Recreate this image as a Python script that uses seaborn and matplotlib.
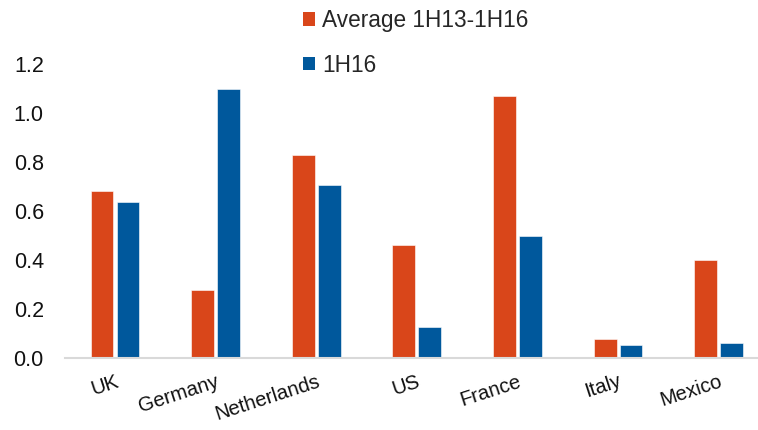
import matplotlib
matplotlib.use("Agg")
import matplotlib.pyplot as plt
from matplotlib.patches import Patch
import seaborn as sns
import pandas as pd

countries = ["UK", "Germany", "Netherlands", "US", "France", "Italy", "Mexico"]
avg_1h13_1h16 = [0.68, 0.276, 0.827, 0.461, 1.071, 0.079, 0.40]
h1_16 = [0.637, 1.097, 0.705, 0.125, 0.497, 0.053, 0.061]
series_names = ["Average 1H13-1H16", "1H16"]
y_ticks = [0.0, 0.2, 0.4, 0.6, 0.8, 1.0, 1.2]

ORANGE = "#D9461A"
BLUE = "#00589C"

df = pd.DataFrame({
    "country": countries * 2,
    "value": avg_1h13_1h16 + h1_16,
    "series": [series_names[0]] * len(countries) + [series_names[1]] * len(countries),
})

sns.set_theme(style="white")
plt.rcParams["font.family"] = ["Liberation Sans", "DejaVu Sans"]

W, H = 758, 430
fig = plt.figure(figsize=(W / 100, H / 100), dpi=100)
left_px, right_px, top_px, bottom_px = 64.7, 769.0, 64.0, 358.0
ax = fig.add_axes([left_px / W, 1 - bottom_px / H,
                   (right_px - left_px) / W, (bottom_px - top_px) / H])

sns.barplot(data=df, x="country", y="value", hue="series",
            palette=[ORANGE, BLUE], saturation=1, width=0.516, gap=0.12,
            edgecolor="white", linewidth=0.4, ax=ax, legend=False)

ax.set_xlim(-0.5, 6.5)
ax.set_ylim(0, 1.2)
ax.set_yticks(y_ticks)
ax.set_yticklabels([f"{v:.1f}" for v in y_ticks], fontsize=15.5, color="#111111")
ax.tick_params(axis="y", length=0, pad=15)

ax.set_xticks(range(len(countries)))
ax.set_xticklabels(countries, rotation=18, ha="right", rotation_mode="anchor",
                   va="top", fontsize=14.6, color="#111111")
ax.tick_params(axis="x", length=0, pad=10)

ax.set_xlabel("")
ax.set_ylabel("")
for side in ["top", "right", "left"]:
    ax.spines[side].set_visible(False)
ax.spines["bottom"].set_color("#D9D9D9")
ax.spines["bottom"].set_linewidth(1.5)

handles = [Patch(facecolor=ORANGE, edgecolor="none"),
           Patch(facecolor=BLUE, edgecolor="none")]
fig.legend(handles, series_names, loc="upper left",
           bbox_to_anchor=(303 / W, 1 - 9 / H), frameon=False,
           fontsize=16.3, handlelength=0.55, handleheight=0.55,
           handletextpad=0.3, labelspacing=0.95, borderpad=0,
           borderaxespad=0)

fig.savefig("out.png", dpi=100)
